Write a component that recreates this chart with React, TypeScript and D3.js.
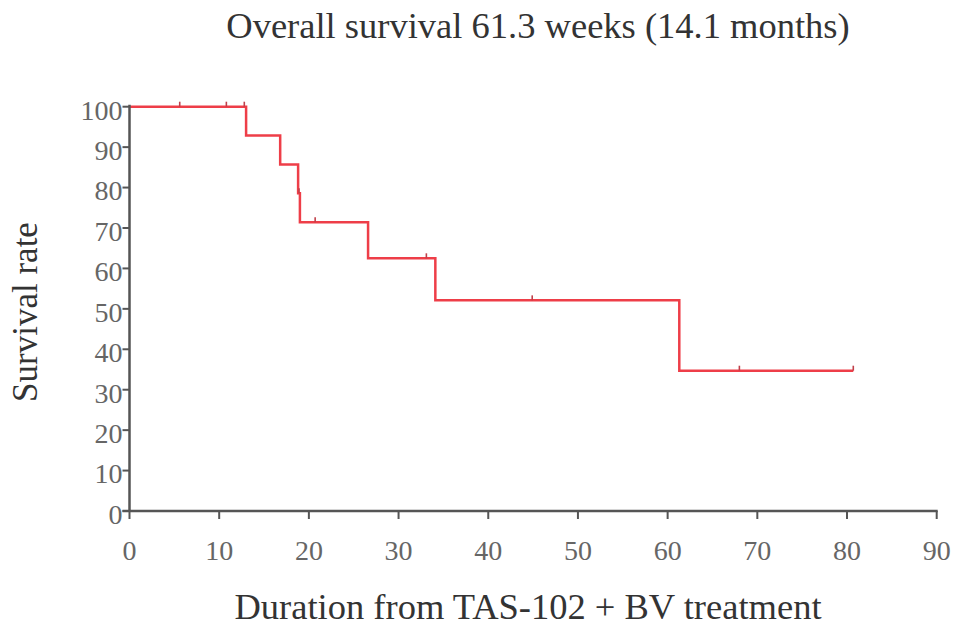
import React, { useEffect, useRef } from 'react';
import * as d3 from 'd3';

// Kaplan-Meier steps (weeks, survival %)
const eventTimes = [13.0, 16.8, 18.8, 19.0, 26.6, 34.1, 61.3];
const survivalLevels = [92.9, 85.7, 78.6, 71.4, 62.5, 52.1, 34.7];
const censorTimes = [5.6, 10.8, 12.8, 18.9, 20.7, 33.1, 44.9, 68.0, 80.7];
const lastFollowUp = 80.7;

const xTicks = [0, 10, 20, 30, 40, 50, 60, 70, 80, 90];
const yTicks = [0, 10, 20, 30, 40, 50, 60, 70, 80, 90, 100];

const titleText = 'Overall survival 61.3 weeks (14.1 months)';
const xLabel = 'Duration from TAS-102 + BV treatment';
const yLabel = 'Survival rate';

const W = 969;
const H = 634;

const levelAt = (t: number) => {
  let s = 100;
  eventTimes.forEach((e, i) => {
    if (t >= e) s = survivalLevels[i];
  });
  return s;
};

const App: React.FC = () => {
  const svgRef = useRef<SVGSVGElement>(null);

  useEffect(() => {
    if (!svgRef.current) return;
    const svg = d3.select(svgRef.current);
    svg.selectAll('*').remove();

    const x = d3.scaleLinear().domain([0, 90]).range([129.5, 936.7]);
    const y = d3.scaleLinear().domain([0, 100]).range([511, 106.7]);

    const font = '"Liberation Serif", "Times New Roman", serif';
    const axisColor = '#555';
    const tickColor = '#666';

    // step curve
    const pts: [number, number][] = [[0, 100]];
    eventTimes.forEach((t, i) => {
      pts.push([t, i === 0 ? 100 : survivalLevels[i - 1]]);
      pts.push([t, survivalLevels[i]]);
    });
    pts.push([lastFollowUp, survivalLevels[survivalLevels.length - 1]]);

    const line = d3.line<[number, number]>()
      .x(d => x(d[0]))
      .y(d => y(d[1]));

    svg.append('path')
      .datum(pts)
      .attr('d', line)
      .attr('fill', 'none')
      .attr('stroke', '#ee3e48')
      .attr('stroke-width', 2.5);

    // censor marks
    censorTimes.forEach(t => {
      const s = t === 18.9 ? 78.6 : levelAt(t);
      svg.append('line')
        .attr('x1', x(t)).attr('x2', x(t))
        .attr('y1', y(s)).attr('y2', y(s) - 5)
        .attr('stroke', '#c0404a')
        .attr('stroke-width', 1.6);
    });

    // y axis
    svg.append('line')
      .attr('x1', x(0)).attr('x2', x(0))
      .attr('y1', y(100) - 2).attr('y2', y(0))
      .attr('stroke', axisColor).attr('stroke-width', 2.5);
    yTicks.forEach(v => {
      svg.append('line')
        .attr('x1', x(0) - 7).attr('x2', x(0))
        .attr('y1', y(v)).attr('y2', y(v))
        .attr('stroke', axisColor).attr('stroke-width', 2);
      svg.append('text')
        .attr('x', x(0) - 7)
        .attr('y', y(v) + 3)
        .attr('dy', '0.35em')
        .attr('text-anchor', 'end')
        .attr('font-family', font)
        .attr('font-size', 28)
        .attr('fill', tickColor)
        .text(v);
    });

    // x axis
    svg.append('line')
      .attr('x1', x(0) - 7).attr('x2', x(90) + 1)
      .attr('y1', y(0)).attr('y2', y(0))
      .attr('stroke', axisColor).attr('stroke-width', 2.5);
    xTicks.forEach(v => {
      svg.append('line')
        .attr('x1', x(v)).attr('x2', x(v))
        .attr('y1', y(0)).attr('y2', y(0) + 8)
        .attr('stroke', axisColor).attr('stroke-width', 2);
      svg.append('text')
        .attr('x', x(v))
        .attr('y', 560)
        .attr('text-anchor', 'middle')
        .attr('font-family', font)
        .attr('font-size', 28)
        .attr('fill', tickColor)
        .text(v);
    });

    // titles
    svg.append('text')
      .attr('x', 538).attr('y', 38)
      .attr('text-anchor', 'middle')
      .attr('font-family', font)
      .attr('font-size', 36.5)
      .attr('fill', '#333')
      .text(titleText);

    svg.append('text')
      .attr('x', 528).attr('y', 619)
      .attr('text-anchor', 'middle')
      .attr('font-family', font)
      .attr('font-size', 36.5)
      .attr('fill', '#333')
      .text(xLabel);

    svg.append('text')
      .attr('transform', 'translate(37,312) rotate(-90)')
      .attr('text-anchor', 'middle')
      .attr('font-family', font)
      .attr('font-size', 35)
      .attr('fill', '#333')
      .text(yLabel);
  }, []);

  return (
    <svg
      ref={svgRef}
      width={W}
      height={H}
      style={{ position: 'absolute', left: 0, top: 0, background: '#fff' }}
    />
  );
};

export default App;
